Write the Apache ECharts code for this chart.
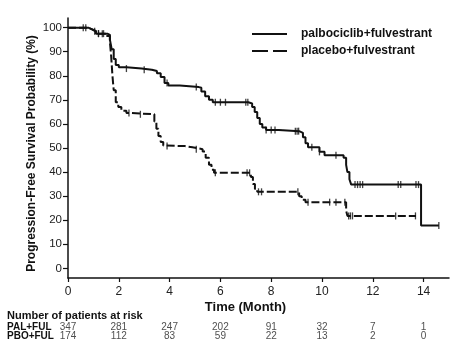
<!DOCTYPE html>
<html>
<head>
<meta charset="utf-8">
<script src="https://cdn.jsdelivr.net/npm/echarts@6/dist/echarts.min.js"></script>
<style>html,body{margin:0;padding:0;background:#fff;}#c{width:474px;height:359px;}</style>
</head>
<body>
<div id="c"></div>
<script>
// Kaplan-Meier step data (time in months, survival %)
const timePAL = [0, 0.8, 0.95, 1.1, 1.55, 1.65, 1.72, 1.8, 1.88, 2.0, 2.3, 2.9, 3.3, 3.5, 3.65, 3.8, 3.95, 4.4, 5.15, 5.25, 5.4, 5.55, 5.7, 7.1, 7.25, 7.35, 7.45, 7.55, 7.65, 7.8, 8.3, 9.1, 9.25, 9.35, 9.45, 9.9, 10.1, 10.85, 10.95, 11.0, 11.08, 11.15, 13.9, 14.6];
const survPAL = [100, 99.3, 98.5, 97.5, 97, 95, 91, 87, 84.5, 83.5, 83, 82.5, 82, 81, 79.5, 77, 76, 75.3, 75, 73.5, 71.5, 70, 69, 68.5, 67, 65, 62.5, 60, 58.5, 57.5, 57, 56.3, 54.5, 52, 50.3, 48.4, 47, 46, 43, 40, 37, 34.8, 17.8, 17.8];
const censorPAL = [0.6, 1.05, 1.2, 1.35, 2.3, 3.0, 3.9, 5.05, 5.8, 6.0, 6.2, 7.0, 7.08, 7.8, 8.0, 8.15, 8.95, 9.02, 9.08, 9.6, 9.9, 10.55, 11.3, 11.4, 11.5, 11.6, 13.0, 13.1, 13.7, 13.8, 14.6];

const timePBO = [0, 0.8, 0.95, 1.1, 1.5, 1.65, 1.7, 1.75, 1.8, 1.88, 1.98, 2.1, 2.3, 2.5, 3.4, 3.48, 3.56, 3.65, 3.75, 3.85, 4.6, 4.9, 5.3, 5.42, 5.55, 5.65, 5.75, 7.2, 7.28, 7.36, 7.45, 9.1, 9.2, 9.35, 10.95, 11.0, 13.7];
const survPBO = [100, 99.3, 98.5, 97.5, 96.5, 94, 88, 80, 74, 69, 67, 65.5, 64.5, 64, 61, 58, 55, 52.5, 51, 50.8, 50.3, 49.5, 48.5, 46, 43, 41, 39.7, 38, 35, 33, 31.8, 30, 28.5, 27.5, 24, 21.8, 21.8];
const censorPBO = [0.7, 1.2, 1.4, 2.4, 2.85, 3.9, 5.05, 5.8, 7.05, 7.15, 7.5, 7.62, 9.05, 9.45, 10.3, 10.55, 10.9, 11.05, 11.12, 11.2, 12.9, 13.68];

const xTicks = [0, 2, 4, 6, 8, 10, 12, 14];
const yTicks = [0, 10, 20, 30, 40, 50, 60, 70, 80, 90, 100];

const riskTimes = [0, 2, 4, 6, 8, 10, 12, 14];
const riskPAL = [347, 281, 247, 202, 91, 32, 7, 1];
const riskPBO = [174, 112, 83, 59, 22, 13, 2, 0];
const rowLabels = ['PAL+FUL', 'PBO+FUL'];

const nameA = 'palbociclib+fulvestrant';
const nameB = 'placebo+fulvestrant';

function pairs(t, s) { return t.map((v, i) => [v, s[i]]); }
function stepAt(t, s, x) {
  let y = s[0];
  for (let i = 0; i < t.length; i++) { if (t[i] <= x) y = s[i]; }
  return y;
}
function censorPts(c, t, s) { return c.map(x => [x, stepAt(t, s, x)]); }

const ink = '#111';
const FONT = 'Liberation Sans, Arial, sans-serif';
const chart = echarts.init(document.getElementById('c'), null, {renderer: 'canvas'});
chart.setOption({
  animation: false,
  backgroundColor: '#fff',
  textStyle: {fontFamily: FONT},
  grid: [
    {left: 68, right: 25, top: 18, bottom: 81},
    {left: 68, right: 25, top: 323, height: 17}
  ],
  xAxis: [
    {
      type: 'value', min: 0, max: 15, gridIndex: 0,
      axisLine: {show: true, onZero: false, lineStyle: {color: ink, width: 1.5}},
      axisTick: {show: true, length: 4, customValues: xTicks, lineStyle: {color: ink, width: 1.2}},
      axisLabel: {customValues: xTicks, fontSize: 12, color: '#222', margin: 8},
      splitLine: {show: false}
    },
    {type: 'value', min: 0, max: 15, gridIndex: 1, show: false}
  ],
  yAxis: [
    {
      type: 'value', min: -4, max: 104, gridIndex: 0,
      axisLine: {show: true, onZero: false, lineStyle: {color: ink, width: 1.5}},
      axisTick: {show: true, length: 5, customValues: yTicks, lineStyle: {color: ink, width: 1.2}},
      axisLabel: {customValues: yTicks, fontSize: 11.5, color: '#222', margin: 6},
      splitLine: {show: false}
    },
    {
      type: 'category', gridIndex: 1, inverse: true, data: rowLabels,
      axisLine: {show: false}, axisTick: {show: false}, splitLine: {show: false},
      axisLabel: {interval: 0, align: 'left', margin: 61, fontSize: 10, fontWeight: 'bold', color: '#111'}
    }
  ],
  series: [
    {
      name: nameA, type: 'line', step: 'end', symbol: 'none', xAxisIndex: 0, yAxisIndex: 0,
      data: pairs(timePAL, survPAL),
      lineStyle: {color: ink, width: 2}, itemStyle: {color: ink}
    },
    {
      name: nameB, type: 'line', step: 'end', symbol: 'none', xAxisIndex: 0, yAxisIndex: 0,
      data: pairs(timePBO, survPBO),
      lineStyle: {color: ink, width: 2, type: [8, 3]}, itemStyle: {color: ink}
    },
    {
      type: 'scatter', symbol: 'rect', symbolSize: [1.3, 7], xAxisIndex: 0, yAxisIndex: 0,
      data: censorPts(censorPAL, timePAL, survPAL), itemStyle: {color: ink}, silent: true
    },
    {
      type: 'scatter', symbol: 'rect', symbolSize: [1.3, 7], xAxisIndex: 0, yAxisIndex: 0,
      data: censorPts(censorPBO, timePBO, survPBO), itemStyle: {color: ink}, silent: true
    },
    {
      type: 'scatter', xAxisIndex: 1, yAxisIndex: 1, symbolSize: 0,
      data: riskTimes.map((t, i) => [t, rowLabels[0], riskPAL[i]]),
      label: {show: true, position: 'inside', formatter: p => String(p.value[2]), fontSize: 10, color: '#222'}
    },
    {
      type: 'scatter', xAxisIndex: 1, yAxisIndex: 1, symbolSize: 0,
      data: riskTimes.map((t, i) => [t, rowLabels[1], riskPBO[i]]),
      label: {show: true, position: 'inside', formatter: p => String(p.value[2]), fontSize: 10, color: '#222'}
    }
  ],
  graphic: [
    // legend
    {type: 'line', shape: {x1: 252, y1: 34, x2: 287, y2: 34}, style: {stroke: ink, lineWidth: 2}},
    {type: 'line', shape: {x1: 252, y1: 51, x2: 287, y2: 51}, style: {stroke: ink, lineWidth: 2, lineDash: [16, 5]}},
    {type: 'text', x: 301, y: 34, style: {text: nameA, font: 'bold 12px ' + FONT, fill: '#111', textAlign: 'left', textVerticalAlign: 'middle'}},
    {type: 'text', x: 301, y: 51, style: {text: nameB, font: 'bold 12px ' + FONT, fill: '#111', textAlign: 'left', textVerticalAlign: 'middle'}},
    // axis titles
    {type: 'text', x: 32, y: 153.5, rotation: Math.PI / 2,
     style: {text: 'Progression-Free Survival Probability (%)', font: 'bold 12px ' + FONT, fill: '#111',
             textAlign: 'center', textVerticalAlign: 'middle'}},
    {type: 'text', x: 245.5, y: 307,
     style: {text: 'Time (Month)', font: 'bold 13px ' + FONT, fill: '#111',
             textAlign: 'center', textVerticalAlign: 'middle'}},
    {type: 'text', x: 7, y: 315.7,
     style: {text: 'Number of patients at risk', font: 'bold 11px ' + FONT, fill: '#111',
             textAlign: 'left', textVerticalAlign: 'middle'}}
  ]
});
</script>
</body>
</html>
